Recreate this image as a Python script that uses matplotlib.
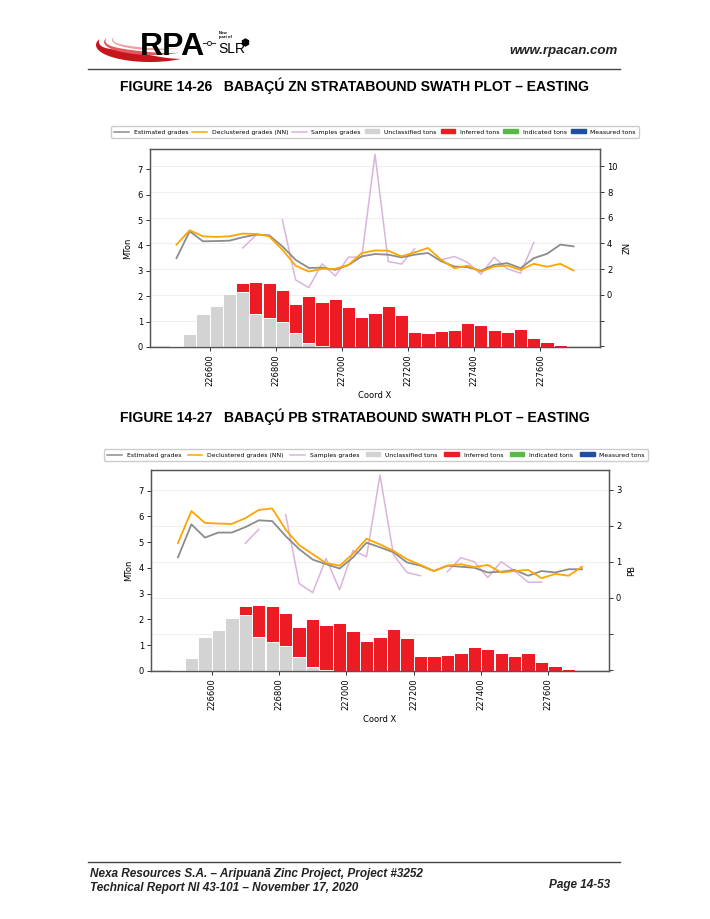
"""
Swath plots (Babaçú ZN and PB stratabound, easting) on a report page.
"""

import matplotlib

matplotlib.use("Agg")

import matplotlib.pyplot as plt
import numpy as np
from matplotlib.lines import Line2D
from matplotlib.patches import Patch, Polygon

nan = np.nan

# Swath centres along easting (m)
coord_x = [226500, 226540, 226580, 226620, 226660, 226700, 226740, 226780,
           226820, 226860, 226900, 226940, 226980, 227020, 227060, 227100,
           227140, 227180, 227220, 227260, 227300, 227340, 227380, 227420,
           227460, 227500, 227540, 227580, 227620, 227660, 227700]

# Tonnage per swath (Mt)
unclassified_mt = [0.03, 0.50, 1.31, 1.61, 2.07, 2.16, 1.31, 1.14, 0.97, 0.56,
                   0.17, 0.05, 0, 0, 0, 0, 0, 0, 0, 0, 0, 0, 0, 0, 0, 0, 0, 0,
                   0, 0, 0]
inferred_mt = [0, 0, 0, 0, 0, 0.36, 1.27, 1.38, 1.27, 1.14, 1.84, 1.73, 1.88,
               1.57, 1.18, 1.33, 1.62, 1.27, 0.60, 0.57, 0.64, 0.68, 0.94,
               0.87, 0.68, 0.60, 0.70, 0.36, 0.21, 0.08, 0]
indicated_mt = [0] * 31
measured_mt = [0] * 31

# ZN grades
zn_est = [2.86, 4.95, 4.17, 4.19, 4.22, 4.48, 4.69, 4.64, 3.78, 2.73, 2.10,
          2.12, 1.95, 2.33, 3.00, 3.18, 3.13, 2.92, 3.13, 3.26, 2.62, 2.21,
          2.16, 1.88, 2.34, 2.47, 2.08, 2.86, 3.20, 3.91, 3.78]
zn_nn = [3.91, 5.03, 4.56, 4.51, 4.56, 4.77, 4.74, 4.56, 3.52, 2.27, 1.82,
         2.03, 2.03, 2.34, 3.26, 3.46, 3.44, 3.00, 3.31, 3.65, 2.73, 2.08,
         2.27, 1.82, 2.21, 2.29, 1.95, 2.42, 2.19, 2.42, 1.90]
zn_samples = [nan, nan, nan, nan, nan, 3.65, 4.64, nan, 5.86, 1.17, 0.57,
              2.42, 1.48, 2.94, 2.94, 10.94, 2.60, 2.40, 3.59, nan, 2.73,
              2.99, 2.53, 1.61, 2.92, 2.03, 1.69, 4.09, nan, nan, nan]

# PB grades
pb_est = [1.12, 2.04, 1.67, 1.81, 1.81, 1.96, 2.15, 2.13, 1.71, 1.35, 1.06,
          0.93, 0.81, 1.12, 1.53, 1.40, 1.26, 0.98, 0.89, 0.74, 0.89, 0.86,
          0.83, 0.70, 0.72, 0.77, 0.61, 0.74, 0.70, 0.79, 0.79]
pb_nn = [1.52, 2.41, 2.08, 2.06, 2.05, 2.21, 2.44, 2.48, 1.89, 1.46, 1.21,
         0.96, 0.89, 1.22, 1.64, 1.48, 1.30, 1.07, 0.91, 0.74, 0.89, 0.93,
         0.85, 0.91, 0.70, 0.74, 0.77, 0.54, 0.66, 0.61, 0.86]
pb_samples = [nan, nan, nan, nan, nan, 1.51, 1.90, nan, 2.31, 0.39, 0.14,
              1.09, 0.22, 1.31, 1.14, 3.41, 1.19, 0.70, 0.61, nan, 0.72,
              1.11, 1.00, 0.56, 1.00, 0.74, 0.43, 0.43, nan, nan, nan]

x_ticks = [226600, 226800, 227000, 227200, 227400, 227600]

C_EST = "#8c8c8c"
C_NN = "#ffa500"
C_SAMP = "#dab4da"
C_UNCL = "#d3d3d3"
C_INF = "#ed1c24"
C_IND = "#5ab946"
C_MEAS = "#1f4ea3"

W, H = 710, 919
fig = plt.figure(figsize=(W / 100, H / 100), dpi=100)


def px_axes(left, top, right, bottom):
    return [left / W, 1 - bottom / H, (right - left) / W, (bottom - top) / H]


def swath_plot(box, est, nn, samples, name, glim, gticks):
    ax = fig.add_axes(box)
    bottom = np.zeros(len(coord_x))
    for vals, col in [(unclassified_mt, C_UNCL), (inferred_mt, C_INF),
                      (indicated_mt, C_IND), (measured_mt, C_MEAS)]:
        ax.bar(coord_x, vals, bottom=bottom, width=40, color=col,
               edgecolor="white", linewidth=0.7)
        bottom = bottom + np.array(vals)

    ax2 = ax.twinx()
    ax2.plot(coord_x, samples, color=C_SAMP, lw=1.1)
    ax2.plot(coord_x, est, color=C_EST, lw=1.3)
    ax2.plot(coord_x, nn, color=C_NN, lw=1.3)
    ax2.grid(axis="y", color="#efefef", lw=0.8)
    ax2.set_ylim(*glim)
    ax2.set_yticks(gticks)
    ax2.set_yticklabels([f"{t:g}" if t >= 0 else "" for t in gticks])
    ax2.set_ylabel(name, fontsize=6)

    ax.set_zorder(ax2.get_zorder() + 1)
    ax.patch.set_visible(False)

    ax.set_xlim(226420, 227780)
    ax.set_ylim(0, 7.8)
    ax.set_yticks(range(8))
    ax.set_xticks(x_ticks)
    ax.set_xticklabels([str(t) for t in x_ticks], rotation=90)
    ax.set_ylabel("MTon", fontsize=6)
    ax.set_xlabel("Coord X", fontsize=6)
    for a in (ax, ax2):
        a.tick_params(labelsize=6, length=3, width=0.7, color="#333333",
                      pad=2)
        for s in a.spines.values():
            s.set_color("#555555")
            s.set_linewidth(0.9)
    return ax


def add_legend(left, right, y):
    handles = [
        Line2D([], [], color=C_EST, lw=1.1),
        Line2D([], [], color=C_NN, lw=1.1),
        Line2D([], [], color=C_SAMP, lw=1.1),
        Patch(color=C_UNCL),
        Patch(color=C_INF),
        Patch(color=C_IND),
        Patch(color=C_MEAS),
    ]
    labels = ["Estimated grades", "Declustered grades (NN)", "Samples grades",
              "Unclassified tons", "Inferred tons", "Indicated tons",
              "Measured tons"]
    fig.legend(handles, labels, loc="center", ncol=7, mode="expand",
               bbox_to_anchor=(left / W, 1 - y / H - 0.005,
                               (right - left) / W, 0.01),
               fontsize=4.4, handlelength=2.4, handleheight=0.6,
               borderpad=0.5, framealpha=1, edgecolor="#cccccc",
               fancybox=True)


swath_plot(px_axes(150, 149, 600, 347), zn_est, zn_nn, zn_samples, "ZN",
           (-4.05, 11.35), [-4, -2, 0, 2, 4, 6, 8, 10])
add_legend(108, 642, 132)

swath_plot(px_axes(151, 470, 609, 671), pb_est, pb_nn, pb_samples, "PB",
           (-2.04, 3.55), [-2, -1, 0, 1, 2, 3])
add_legend(101, 651, 455)

# page decoration in pixel coordinates
page = fig.add_axes([0, 0, 1, 1], zorder=-5)
page.set_xlim(0, W)
page.set_ylim(H, 0)
page.axis("off")

# logo swoosh
for cx, cy, a, b, thick, col in [(150, 45, 54, 17, 10, "#c8141c"),
                                 (152, 42, 48, 13, 4, "#e05a60"),
                                 (154, 40, 42, 10, 2.5, "#f0a0a4")]:
    t = np.linspace(np.radians(55), np.radians(200), 80)
    w = thick * np.sin(np.pi * (t - t[0]) / (t[-1] - t[0]))
    outer = np.c_[cx + a * np.cos(t), cy + b * np.sin(t)]
    inner = np.c_[cx + (a - w) * np.cos(t), cy + (b - w) * np.sin(t)]
    page.add_patch(Polygon(np.vstack([outer, inner[::-1]]), closed=True,
                           color=col, lw=0))
page.text(140, 55, "RPA", fontsize=23, fontweight="bold", color="black",
          family="Liberation Sans", va="baseline", ha="left")
page.plot([203, 215], [43, 43], color="#333333", lw=0.8)
page.plot([209], [43], marker="o", ms=3, mfc="white", mec="#333333", mew=0.7)
page.text(219, 31, "Now\npart of", fontsize=3, fontweight="bold",
          family="Liberation Sans", va="top", linespacing=1.1)
page.text(218, 53, "SLR", fontsize=10, family="Liberation Sans",
          va="baseline")
page.plot([245], [42], marker="h", ms=5, color="black")
page.text(618, 54, "www.rpacan.com", fontsize=9.5, fontweight="bold",
          style="italic", family="Liberation Sans", ha="right",
          va="baseline", color="#222222")
page.plot([88, 620], [69, 69], color="#444444", lw=1)

title_kw = dict(fontsize=10.1, fontweight="bold", family="Liberation Sans",
                ha="center", va="center")
page.text(355, 86, "FIGURE 14-26   BABAÇÚ ZN STRATABOUND SWATH PLOT \u2013 EASTING",
          **title_kw)
page.text(355, 417, "FIGURE 14-27   BABAÇÚ PB STRATABOUND SWATH PLOT \u2013 EASTING",
          **title_kw)

page.plot([88, 620], [862, 862], color="#444444", lw=1)
foot_kw = dict(fontsize=8.5, fontweight="bold", style="italic",
               family="Liberation Sans", va="center", color="#222222")
page.text(90, 874, "Nexa Resources S.A. \u2013 Aripuanã Zinc Project, Project #3252",
          ha="left", **foot_kw)
page.text(90, 888, "Technical Report NI 43-101 \u2013 November 17, 2020",
          ha="left", **foot_kw)
page.text(610, 885, "Page 14-53", ha="right", **foot_kw)

fig.savefig("out.png", dpi=100)
plt.close(fig)
